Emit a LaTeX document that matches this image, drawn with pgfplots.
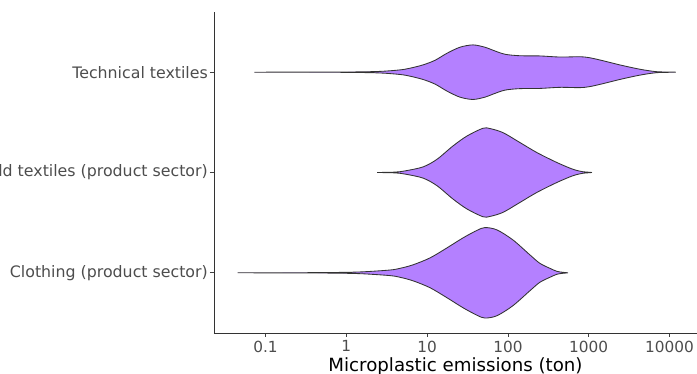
\documentclass[border=0pt]{standalone}
\usepackage{fontspec}
\setmainfont{DejaVu Sans}
\usepackage{pgfplots}
\pgfplotsset{compat=1.18}
\usepackage{pgfplotstable}

\definecolor{violinfill}{HTML}{B480FF}
\definecolor{violinedge}{HTML}{333333}
\definecolor{ticktext}{HTML}{4D4D4D}

% Violin outlines: L = log10(emissions in ton), w = half width (category units),
% s = side (+1 upper edge, left to right; -1 lower edge, right to left)
\pgfplotstableread{
L w s
-1.346 0 1
-0.568 0.001 1
-0.074 0.004 1
0.210 0.010 1
0.543 0.028 1
0.667 0.045 1
0.827 0.080 1
1.037 0.149 1
1.247 0.249 1
1.444 0.348 1
1.617 0.423 1
1.716 0.451 1
1.864 0.428 1
2.062 0.328 1
2.272 0.179 1
2.395 0.095 1
2.519 0.045 1
2.605 0.015 1
2.679 0.005 1
2.741 0 1
2.679 0.005 -1
2.605 0.015 -1
2.519 0.045 -1
2.395 0.095 -1
2.272 0.179 -1
2.062 0.328 -1
1.864 0.428 -1
1.716 0.451 -1
1.617 0.423 -1
1.444 0.348 -1
1.247 0.249 -1
1.037 0.149 -1
0.827 0.080 -1
0.667 0.045 -1
0.543 0.028 -1
0.210 0.010 -1
-0.074 0.004 -1
-0.568 0.001 -1
-1.346 0 -1
}\clothing

\pgfplotstableread{
L w s
0.383 0 1
0.605 0.004 1
0.728 0.016 1
0.951 0.056 1
1.123 0.132 1
1.321 0.265 1
1.494 0.364 1
1.691 0.441 1
1.778 0.438 1
1.938 0.398 1
2.148 0.299 1
2.358 0.199 1
2.605 0.100 1
2.802 0.033 1
2.926 0.008 1
3.037 0 1
2.926 0.008 -1
2.802 0.033 -1
2.605 0.100 -1
2.358 0.199 -1
2.148 0.299 -1
1.938 0.398 -1
1.778 0.438 -1
1.691 0.441 -1
1.494 0.364 -1
1.321 0.265 -1
1.123 0.132 -1
0.951 0.056 -1
0.728 0.016 -1
0.605 0.004 -1
0.383 0 -1
}\household

\pgfplotstableread{
L w s
-1.136 0 1
-0.568 0.0005 1
0.049 0.002 1
0.420 0.008 1
0.667 0.023 1
0.790 0.040 1
0.951 0.073 1
1.099 0.119 1
1.247 0.189 1
1.407 0.249 1
1.568 0.272 1
1.716 0.249 1
1.815 0.219 1
1.963 0.179 1
2.148 0.164 1
2.395 0.162 1
2.642 0.151 1
2.889 0.154 1
3.012 0.144 1
3.173 0.115 1
3.383 0.073 1
3.630 0.030 1
3.840 0.005 1
4.074 0 1
3.840 0.005 -1
3.630 0.030 -1
3.383 0.073 -1
3.173 0.115 -1
3.012 0.144 -1
2.889 0.154 -1
2.642 0.151 -1
2.395 0.162 -1
2.148 0.164 -1
1.963 0.179 -1
1.815 0.219 -1
1.716 0.249 -1
1.568 0.272 -1
1.407 0.249 -1
1.247 0.189 -1
1.099 0.119 -1
0.951 0.073 -1
0.790 0.040 -1
0.667 0.023 -1
0.420 0.008 -1
0.049 0.002 -1
-0.568 0.0005 -1
-1.136 0 -1
}\technical

\begin{document}
\begin{tikzpicture}
\begin{axis}[
  at={(214pt,41pt)}, anchor=south west,
  scale only axis, width=483pt, height=321pt,
  xmin=-1.637, xmax=4.34, ymin=0.4, ymax=3.6,
  axis lines*=left,
  axis line style={-, draw=black!80, line width=0.9pt},
  tick align=outside, major tick length=4pt,
  tick style={draw=black!75, line width=0.8pt},
  xtick={-1,0,1,2,3,4},
  xticklabels={0.1,1,10,100,1000,10000},
  ytick={1,2,3},
  yticklabels={Clothing (product sector),Household textiles (product sector),Technical textiles},
  /pgf/number format/assume math mode=true,
  xticklabel style={font=\fontsize{15.3}{18}\selectfont, text=ticktext, anchor=north, inner sep=0pt, yshift=-3.5pt},
  yticklabel style={font=\fontsize{15.8}{18}\selectfont, text=ticktext, anchor=east, inner sep=0pt, xshift=-2pt},
  xlabel={Microplastic emissions (ton)},
  xlabel style={font=\fontsize{18.2}{21}\selectfont, text=black, at={(axis description cs:0.5,0)}, anchor=north, inner sep=0pt, yshift=-24pt},
  violin/.style={fill=violinfill, draw=violinedge, line width=0.85pt, smooth, line join=round},
]
\addplot[violin] table[x=L, y expr=1+\thisrow{s}*\thisrow{w}] {\clothing};
\addplot[violin] table[x=L, y expr=2+\thisrow{s}*\thisrow{w}] {\household};
\addplot[violin] table[x=L, y expr=3+\thisrow{s}*\thisrow{w}] {\technical};
\end{axis}
\pgfresetboundingbox
\path[use as bounding box] (0,0) rectangle (697pt,374pt);
\end{tikzpicture}
\end{document}
